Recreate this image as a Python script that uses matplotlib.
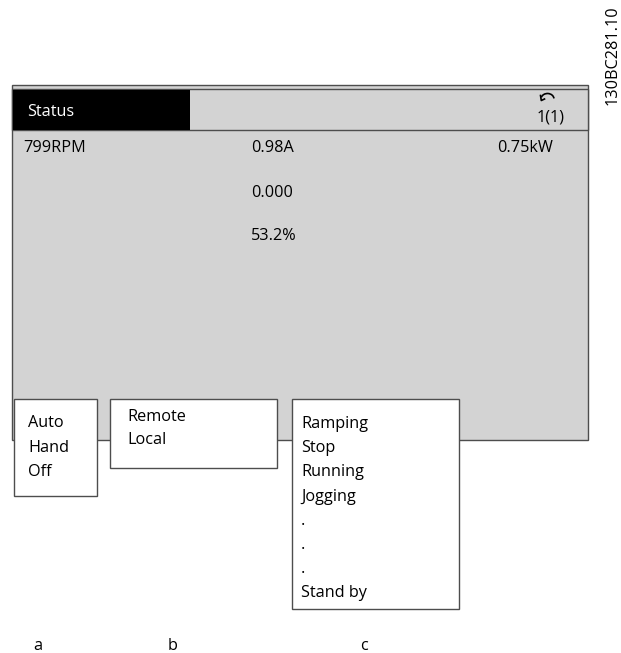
import matplotlib.pyplot as plt
from matplotlib.patches import Rectangle, Arc

plt.rcParams['font.family'] = ['Open Sans', 'DejaVu Sans']

# display content
header_title = "Status"
header_page = "1(1)"
row1 = ["799RPM", "0.98A", "0.75kW"]
center_rows = ["0.000", "53.2%"]
box_a = ["Auto", "Hand", "Off"]
box_b = ["Remote", "Local"]
box_c = ["Ramping", "Stop", "Running", "Jogging", ".", ".", ".", "Stand by"]
labels = ["a", "b", "c"]
label_x = [38, 173, 364]
code = "130BC281.10"

W, H = 621, 653
fig = plt.figure(figsize=(W / 100, H / 100), dpi=100)
ax = fig.add_axes([0, 0, 1, 1])
ax.set_xlim(0, W)
ax.set_ylim(H, 0)
ax.axis('off')

grey = '#d3d3d3'
edge = '#4d4d4d'
fs = 11.7

# main display panel
ax.add_patch(Rectangle((12, 85), 576, 355, fc=grey, ec=edge, lw=1))
ax.add_patch(Rectangle((12, 89), 576, 41, fc=grey, ec=edge, lw=1))
ax.add_patch(Rectangle((12.5, 89.5), 177, 40, fc='black', ec='none'))
ax.text(27, 112, header_title, color='white', fontsize=fs, va='center')
ax.text(565, 118, header_page, fontsize=fs, va='center', ha='right')

# rotation arrow above the page number
ax.add_patch(Arc((547.5, 99), 13, 11, theta1=195, theta2=355, lw=1.2, color='black'))
ax.plot([540.5, 541.3, 544.5], [95.5, 100.5, 99], color='black', lw=1.2)

ax.text(23, 148, row1[0], fontsize=fs, va='center')
ax.text(251, 148, row1[1], fontsize=fs, va='center')
ax.text(553, 148, row1[2], fontsize=fs, va='center', ha='right')
for i, s in enumerate(center_rows):
    ax.text(251, 193 + i * 43, s, fontsize=fs, va='center')

# pop-up boxes
ax.add_patch(Rectangle((14, 399), 83, 97, fc='white', ec=edge, lw=1))
ax.add_patch(Rectangle((110, 399), 167, 69, fc='white', ec=edge, lw=1))
ax.add_patch(Rectangle((292, 399), 167, 210, fc='white', ec=edge, lw=1))

for i, s in enumerate(box_a):
    ax.text(28, 423 + i * 24.5, s, fontsize=fs, va='center')
for i, s in enumerate(box_b):
    ax.text(127, 417 + i * 23.5, s, fontsize=fs, va='center')
for i, s in enumerate(box_c):
    ax.text(301, 424 + i * 24.2, s, fontsize=fs, va='center')

for x, s in zip(label_x, labels):
    ax.text(x, 646, s, fontsize=fs, va='center', ha='center')

ax.text(613, 55, code, fontsize=fs, rotation=90, va='center', ha='center')

fig.savefig('out.png', dpi=100)
